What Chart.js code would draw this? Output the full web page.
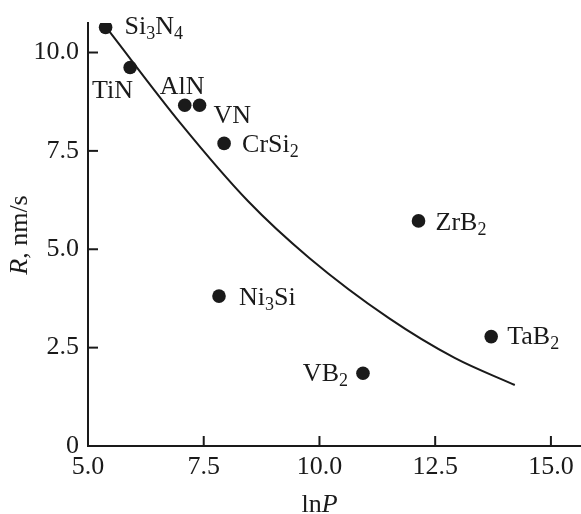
<!DOCTYPE html>
<html>
<head>
<meta charset="utf-8">
<script src="https://cdn.jsdelivr.net/npm/chart.js@4.4.0/dist/chart.umd.min.js"></script>
<style>
  html, body { margin: 0; padding: 0; background: #fff; overflow: hidden; }
  #wrap { width: 581px; height: 514px; position: relative; }
</style>
</head>
<body>
<div id="wrap"><canvas id="chart"></canvas></div>
<script>
// materials: ln P vs R (nm/s)
var materials = ["Si_3N_4", "TiN", "AlN", "VN", "CrSi_2", "ZrB_2", "Ni_3Si", "TaB_2", "VB_2"];
var lnP = [5.38, 5.91, 7.09, 7.41, 7.94, 12.14, 7.83, 13.71, 10.94];
var rate = [10.64, 9.62, 8.66, 8.66, 7.69, 5.72, 3.81, 2.78, 1.85];

// fitted curve as drawn
var fitX = [5.44, 7.0, 8.46, 9.78, 11.5, 12.92, 14.22];
var fitY = [10.57, 8.20, 6.22, 4.78, 3.25, 2.24, 1.55];

var xTicks = [5.0, 7.5, 10.0, 12.5, 15.0];
var yTicks = [0, 2.5, 5.0, 7.5, 10.0];

// where each label sits relative to its dot: dx, dy of cap centre, anchor (layout only)
var labelOffsets = [
  [19, -2, 'left'], [-38, 22, 'left'], [-25, -20, 'left'], [14, 9, 'left'],
  [18, 0, 'left'], [17, 0, 'left'], [20, 0, 'left'], [16, -1, 'left'], [-15, -1, 'right']
];

var SERIF = '"Liberation Serif", "Times New Roman", serif';
var INK = '#1a1a1a';
var FS = 26, SUB = 18;

function chemParts(s) {
  var out = [];
  var re = /_(\d+)|([^_]+?)(?=_|$)/g, m;
  while ((m = re.exec(s)) !== null) {
    if (m[1] !== undefined) out.push({ t: m[1], sub: true });
    else out.push({ t: m[2], sub: false });
  }
  return out;
}

// y is the centre of the capitals
function drawChem(ctx, s, x, y, align) {
  var parts = chemParts(s);
  var w = 0;
  parts.forEach(function (p) {
    ctx.font = (p.sub ? SUB : FS) + 'px ' + SERIF;
    p.w = ctx.measureText(p.t).width;
    w += p.w;
  });
  var cx = align === 'right' ? x - w : x;
  var base = y + FS * 0.33;
  ctx.textBaseline = 'alphabetic';
  ctx.textAlign = 'left';
  parts.forEach(function (p) {
    ctx.font = (p.sub ? SUB : FS) + 'px ' + SERIF;
    ctx.fillText(p.t, cx, p.sub ? base + 5 : base);
    cx += p.w;
  });
}

var decorations = {
  id: 'decorations',
  afterDatasetsDraw: function (chart) {
    var ctx = chart.ctx, xs = chart.scales.x, ys = chart.scales.y;
    var area = chart.chartArea;
    ctx.save();
    ctx.fillStyle = INK;
    ctx.strokeStyle = INK;
    ctx.lineWidth = 2;
    // inward tick marks
    xTicks.forEach(function (v) {
      var px = xs.getPixelForValue(v);
      ctx.beginPath(); ctx.moveTo(px, area.bottom); ctx.lineTo(px, area.bottom - 10); ctx.stroke();
    });
    yTicks.forEach(function (v) {
      var py = ys.getPixelForValue(v);
      ctx.beginPath(); ctx.moveTo(area.left, py); ctx.lineTo(area.left + 10, py); ctx.stroke();
    });
    // point labels
    materials.forEach(function (m, i) {
      var o = labelOffsets[i];
      drawChem(ctx, m, xs.getPixelForValue(lnP[i]) + o[0], ys.getPixelForValue(rate[i]) + o[1], o[2]);
    });
    // x title: ln P (italic P)
    ctx.textBaseline = 'alphabetic';
    ctx.textAlign = 'left';
    ctx.font = FS + 'px ' + SERIF;
    var w1 = ctx.measureText('ln').width;
    ctx.font = 'italic ' + FS + 'px ' + SERIF;
    var w2 = ctx.measureText('P').width;
    var cx = xs.getPixelForValue(10) - (w1 + w2) / 2;
    ctx.font = FS + 'px ' + SERIF;
    ctx.fillText('ln', cx, 512);
    ctx.font = 'italic ' + FS + 'px ' + SERIF;
    ctx.fillText('P', cx + w1, 512);
    // y title: R, nm/s (italic R), rotated
    ctx.translate(27, 235);
    ctx.rotate(-Math.PI / 2);
    ctx.font = 'italic ' + FS + 'px ' + SERIF;
    var r1 = ctx.measureText('R').width;
    ctx.font = FS + 'px ' + SERIF;
    var r2 = ctx.measureText(', nm/s').width;
    var sx = -(r1 + r2) / 2;
    ctx.font = 'italic ' + FS + 'px ' + SERIF;
    ctx.fillText('R', sx, 0);
    ctx.font = FS + 'px ' + SERIF;
    ctx.fillText(', nm/s', sx + r1, 0);
    ctx.restore();
  }
};

function build() {
  var ctx = document.getElementById('chart').getContext('2d');
  return new Chart(ctx, {
    type: 'scatter',
    data: {
      datasets: [
        {
          label: 'fit',
          type: 'line',
          data: fitX.map(function (x, i) { return { x: x, y: fitY[i] }; }),
          borderColor: INK,
          borderWidth: 2,
          pointRadius: 0,
          fill: false,
          cubicInterpolationMode: 'monotone'
        },
        {
          label: 'materials',
          data: lnP.map(function (x, i) { return { x: x, y: rate[i] }; }),
          backgroundColor: INK,
          borderColor: INK,
          borderWidth: 0,
          pointRadius: 6.8,
          pointHoverRadius: 6.8
        }
      ]
    },
    options: {
      responsive: true,
      maintainAspectRatio: false,
      animation: false,
      layout: { autoPadding: false, padding: { top: 23, right: 0, left: 0, bottom: 0 } },
      plugins: { legend: { display: false }, tooltip: { enabled: false } },
      scales: {
        x: {
          type: 'linear',
          min: 5, max: 15.65,
          afterFit: function (s) { s.height = 68; s.paddingLeft = 0; s.paddingRight = 0; },
          afterBuildTicks: function (s) { s.ticks = xTicks.map(function (v) { return { value: v }; }); },
          grid: { display: false, drawTicks: false },
          border: { display: true, color: INK, width: 2 },
          ticks: {
            color: INK,
            padding: 6,
            font: { family: SERIF, size: FS },
            callback: function (v) { return v.toFixed(1); }
          }
        },
        y: {
          type: 'linear',
          min: 0, max: 10.75,
          afterFit: function (s) { s.width = 88; s.paddingTop = 0; s.paddingBottom = 0; },
          afterBuildTicks: function (s) { s.ticks = yTicks.map(function (v) { return { value: v }; }); },
          grid: { display: false, drawTicks: false },
          border: { display: true, color: INK, width: 2 },
          ticks: {
            color: INK,
            padding: 9,
            font: { family: SERIF, size: FS },
            callback: function (v) { return v === 0 ? '0' : v.toFixed(1); }
          }
        }
      }
    },
    plugins: [decorations]
  });
}

var chart;
if (document.fonts && document.fonts.load) {
  Promise.all([
    document.fonts.load(FS + 'px "Liberation Serif"'),
    document.fonts.load('italic ' + FS + 'px "Liberation Serif"')
  ]).then(function () { chart = build(); }, function () { chart = build(); });
} else {
  chart = build();
}
</script>
</body>
</html>
